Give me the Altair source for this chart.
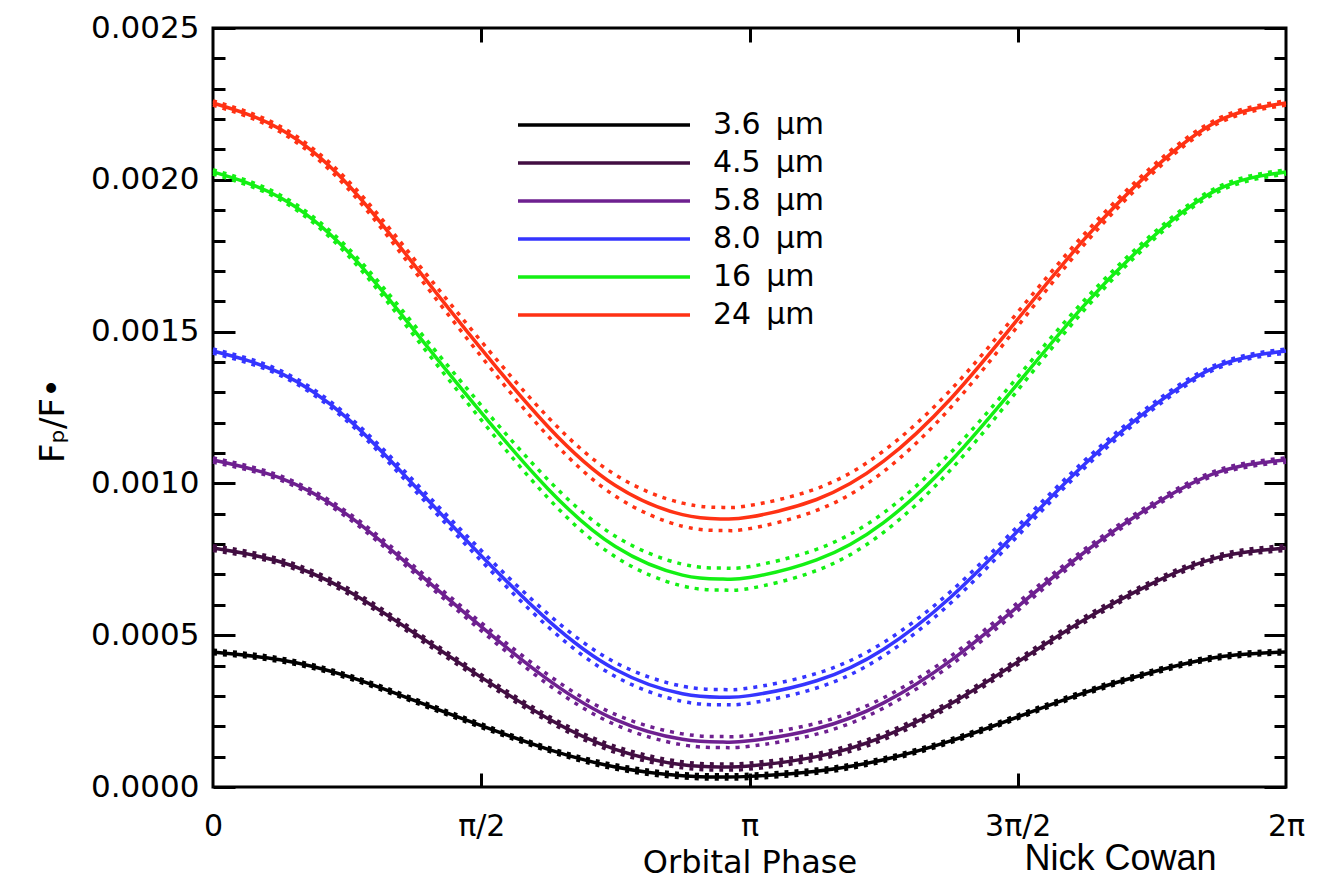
import math
import altair as alt
import pandas as pd

PI = math.pi

# phase sample points (radians)
phase = [0, PI/8, PI/4, 3*PI/8, PI/2, 5*PI/8, 3*PI/4, 7*PI/8, 2.986, PI,
         9*PI/8, 5*PI/4, 11*PI/8, 3*PI/2, 13*PI/8, 7*PI/4, 15*PI/8, 2*PI]

bands = ["3.6\u2002\u03bcm", "4.5\u2002\u03bcm", "5.8\u2002\u03bcm", "8.0\u2002\u03bcm", "16\u2002\u03bcm", "24\u2002\u03bcm"]
colors = ["#000000", "#420e42", "#6e2090", "#3535ff", "#14f014", "#ff3214"]

# planet/star flux ratio, parts per million
flux_36 = [445, 419, 365, 285, 202, 124, 66, 37, 33, 35, 52, 90, 152, 231, 311, 378, 428, 445]
flux_45 = [787, 742, 647, 507, 361, 225, 124, 73, 66, 69, 100, 166, 274, 412, 552, 670, 757, 787]
flux_58 = [1077, 1018, 897, 716, 528, 353, 222, 157, 148, 152, 192, 277, 416, 594, 774, 926, 1038, 1077]
flux_80 = [1436, 1364, 1215, 993, 762, 548, 387, 307, 296, 301, 350, 454, 625, 843, 1064, 1251, 1388, 1436]
flux_16 = [2026, 1942, 1766, 1504, 1233, 981, 792, 698, 685, 690, 748, 871, 1073, 1329, 1589, 1809, 1970, 2026]
flux_24 = [2253, 2167, 1987, 1720, 1443, 1186, 993, 897, 883, 889, 947, 1073, 1279, 1541, 1806, 2031, 2195, 2253]

# half-width of the dotted uncertainty envelope, ppm
err_36 = [6, 6, 6, 6, 6, 6, 7, 7, 7, 7, 7, 6, 6, 6, 6, 6, 6, 6]
err_45 = [8, 8, 9, 9, 9, 9, 10, 10, 10, 10, 10, 10, 9, 9, 9, 8, 8, 8]
err_58 = [7, 7, 9, 11, 13, 16, 17, 18, 18, 18, 18, 17, 15, 13, 10, 8, 7, 7]
err_80 = [7, 8, 10, 14, 17, 21, 23, 25, 25, 25, 24, 22, 19, 16, 12, 10, 7, 7]
err_16 = [7, 8, 12, 18, 24, 30, 34, 36, 36, 36, 35, 32, 28, 22, 16, 11, 8, 7]
err_24 = [7, 9, 13, 19, 25, 31, 35, 38, 38, 38, 36, 34, 29, 23, 17, 12, 8, 7]

y_ticks = [0.0, 0.0005, 0.0010, 0.0015, 0.0020, 0.0025]
y_minor = [i / 10000 for i in range(26)]
x_ticks = [0, PI/2, PI, 3*PI/2, 2*PI]
x_inner = [PI/2, PI, 3*PI/2]
x_labels = ["0", "\u03c0/2", "\u03c0", "3\u03c0/2", "2\u03c0"]

fluxes = [flux_36, flux_45, flux_58, flux_80, flux_16, flux_24]
errs = [err_36, err_45, err_58, err_80, err_16, err_24]

rows = []
for b, fl, er in zip(bands, fluxes, errs):
    for p, f, e in zip(phase, fl, er):
        rows.append({"band": b, "phase": p, "flux": f * 1e-6,
                     "upper": (f + e) * 1e-6, "lower": (f - e) * 1e-6})
df = pd.DataFrame(rows)

W, H = 1073, 759
FONT = "DejaVu Sans"

x_scale = alt.Scale(domain=[0, 2*PI], nice=False, zero=False)
y_scale = alt.Scale(domain=[0, 0.0025], nice=False)
color_scale = alt.Scale(domain=bands, range=colors)

label_expr = "[" + ",".join("'" + s + "'" for s in x_labels) + "][round(datum.value / (PI / 2))]"

minor_size = {"condition": {"test": "round(datum.value * 10000) % 5 === 0", "value": 22}, "value": 12}

legend = alt.Legend(orient="none", legendX=303, legendY=78, title=None,
                    symbolType="stroke", symbolSize=29584, symbolStrokeWidth=3.5,
                    symbolDash=[1, 0],
                    labelFont=FONT, labelFontSize=30, labelColor="black",
                    labelOffset=21, clipHeight=38, rowPadding=0, padding=0,
                    symbolOffset=0)
color = alt.Color("band:N", scale=color_scale, sort=bands, legend=legend)

solid = alt.Chart(df).mark_line(strokeWidth=3.5, interpolate="natural").encode(
    x=alt.X("phase:Q", scale=x_scale,
            axis=alt.Axis(values=x_ticks, labelExpr=label_expr, ticks=False, domain=False, grid=False,
                          labelFont=FONT, labelFontSize=30, labelColor="black", labelPadding=24,
                          labelFlush=False, labelOverlap=False,
                          title="Orbital Phase", titleFont=FONT, titleFontSize=32,
                          titleFontWeight="normal", titleColor="black", titlePadding=6)),
    y=alt.Y("flux:Q", scale=y_scale,
            axis=alt.Axis(values=y_ticks, format=".4f", ticks=False, domain=False, grid=False,
                          labelFont=FONT, labelFontSize=31, labelColor="black", labelPadding=14,
                          labelFlush=False, labelOverlap=False,
                          title="F\u209a/F\u2022", titleFont=FONT, titleFontSize=34,
                          titleFontWeight="normal", titleColor="black", titlePadding=20,
                          titleY=392)),
    color=color,
)

upper = alt.Chart(df).mark_line(strokeWidth=3.5, strokeDash=[4, 6], interpolate="natural").encode(
    x=alt.X("phase:Q", scale=x_scale,
            axis=alt.Axis(orient="top", offset=-H, values=x_inner, labels=False, domain=False,
                          grid=False, tickSize=14, tickWidth=3, tickColor="black", title=None)),
    y=alt.Y("upper:Q", scale=y_scale,
            axis=alt.Axis(orient="right", offset=-W, values=y_minor, labels=False, domain=False,
                          grid=False, tickSize=minor_size, tickWidth=3, tickColor="black", title=None)),
    color=color,
)

lower = alt.Chart(df).mark_line(strokeWidth=3.5, strokeDash=[4, 6], interpolate="natural").encode(
    x=alt.X("phase:Q", scale=x_scale,
            axis=alt.Axis(orient="bottom", offset=-H, values=x_inner, labels=False, domain=False,
                          grid=False, tickSize=14, tickWidth=3, tickColor="black", title=None)),
    y=alt.Y("lower:Q", scale=y_scale,
            axis=alt.Axis(orient="left", offset=-W, values=y_minor, labels=False, domain=False,
                          grid=False, tickSize=minor_size, tickWidth=3, tickColor="black", title=None)),
    color=color,
)

chart = alt.layer(solid, upper, lower).resolve_axis(x="independent", y="independent").properties(
    width=W, height=H,
    autosize=alt.AutoSizeParams(type="none"),
    padding={"left": 213, "top": 28, "right": 34, "bottom": 97},
    background="white",
    title=alt.TitleParams("Nick Cowan", orient="bottom", anchor="end", font="Liberation Sans",
                          fontSize=36, fontWeight="normal", color="black", dx=-88, dy=-36, offset=0),
).configure_view(stroke="black", strokeWidth=3)

chart.save("out.html", embed_options={"renderer": "svg", "actions": False})
